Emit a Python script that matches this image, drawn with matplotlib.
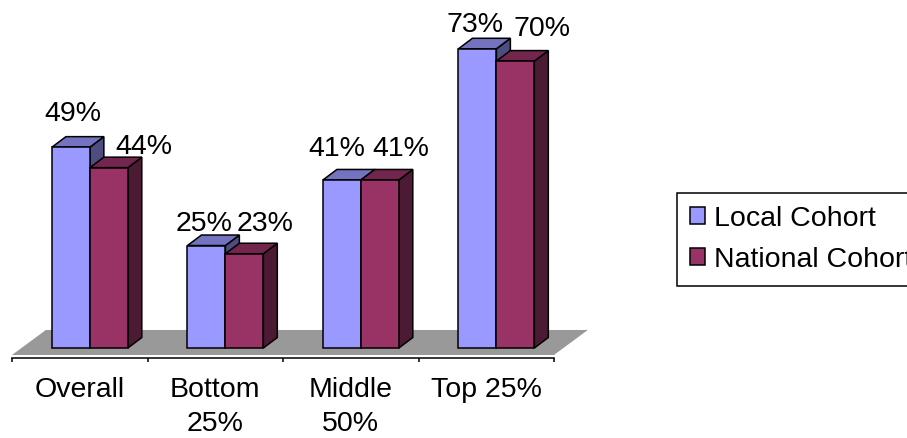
import matplotlib
matplotlib.use("Agg")
import matplotlib.pyplot as plt
from matplotlib.patches import Polygon, Patch

categories = ["Overall", "Bottom\n25%", "Middle\n50%", "Top 25%"]
local_vals = [49, 25, 41, 73]
national_vals = [44, 23, 41, 70]
series_names = ["Local Cohort", "National Cohort"]

local_nudge = [(0.015, 6.4), (-0.02, 3.5), (-0.035, 5.8), (-0.02, 4.1)]
national_nudge = [(0.26, 3.3), (0.15, 5.5), (0.155, 5.8), (0.2, 6.2)]

local_cols = {"front": "#9999ff", "top": "#7373bf", "side": "#4d4d80"}
national_cols = {"front": "#993366", "top": "#73264d", "side": "#4d1a33"}

FS = 20.5
plt.rcParams["font.family"] = ["Liberation Sans", "DejaVu Sans"]

bar_w = 0.28
first_off = -0.205
ddx, ddy = 0.103, 2.56      # bar depth
fdx, fy0, fy1 = 0.25, -1.7, 4.4   # floor depth
lw = 1.1


def draw_bar(ax, x0, h, cols, z):
    side = Polygon([(x0 + bar_w, 0), (x0 + bar_w + ddx, ddy), (x0 + bar_w + ddx, h + ddy), (x0 + bar_w, h)],
                   closed=True, facecolor=cols["side"], edgecolor="black", linewidth=lw, zorder=z, clip_on=False)
    top = Polygon([(x0, h), (x0 + ddx, h + ddy), (x0 + bar_w + ddx, h + ddy), (x0 + bar_w, h)],
                  closed=True, facecolor=cols["top"], edgecolor="black", linewidth=lw, zorder=z + 1, clip_on=False)
    ax.add_patch(side)
    ax.add_patch(top)
    ax.bar(x0, h, width=bar_w, align="edge", color=cols["front"], edgecolor="black",
           linewidth=lw, zorder=z + 2, clip_on=False)


fig = plt.figure(figsize=(9.07, 4.38), dpi=100)
ax = fig.add_axes([12 / 907, 80 / 438, 542 / 907, 358 / 438])
ax.set_xlim(-0.5, 3.5)
ax.set_ylim(-2.44, 84.9)

n = len(categories)
floor = Polygon([(-0.5, fy0), (n - 0.5, fy0), (n - 0.5 + fdx, fy1), (-0.5 + fdx, fy1)],
                closed=True, facecolor="#999999", edgecolor="none", zorder=1, clip_on=False)
ax.add_patch(floor)

for i in range(n):
    xl = i + first_off
    xn = xl + bar_w
    draw_bar(ax, xl, local_vals[i], local_cols, 10 + i * 10)
    draw_bar(ax, xn, national_vals[i], national_cols, 13 + i * 10)
    ax.text(xl + bar_w / 2 + local_nudge[i][0], local_vals[i] + local_nudge[i][1],
            "%d%%" % local_vals[i], ha="center", va="baseline", fontsize=FS, zorder=60)
    ax.text(xn + bar_w / 2 + national_nudge[i][0], national_vals[i] + national_nudge[i][1],
            "%d%%" % national_vals[i], ha="center", va="baseline", fontsize=FS, zorder=60)

for s in ["top", "left", "right"]:
    ax.spines[s].set_visible(False)
ax.spines["bottom"].set_linewidth(lw)
ax.set_yticks([])
ax.set_xticks([k - 0.5 for k in range(n + 1)])
ax.set_xticklabels([])
ax.tick_params(axis="x", which="major", direction="out", length=3, width=lw)
ax.set_xticks(range(n), minor=True)
ax.set_xticklabels(categories, minor=True, fontsize=FS, va="top", linespacing=1.42)
ax.tick_params(axis="x", which="minor", length=0, pad=13.5)
ax.patch.set_visible(False)

handles = [Patch(facecolor=local_cols["front"], edgecolor="black", linewidth=lw),
           Patch(facecolor=national_cols["front"], edgecolor="black", linewidth=lw)]
leg = fig.legend(handles, series_names, loc="upper left", bbox_to_anchor=(677 / 907, 1 - 193 / 438),
                 bbox_transform=fig.transFigure, fontsize=FS, frameon=True, fancybox=False,
                 borderaxespad=0, borderpad=0.45, handlelength=0.54, handleheight=0.54,
                 handletextpad=0.3, labelspacing=0.53)
leg.get_frame().set_edgecolor("black")
leg.get_frame().set_linewidth(lw)
leg.get_frame().set_alpha(None)

fig.savefig("out.png", dpi=100, facecolor="white")
